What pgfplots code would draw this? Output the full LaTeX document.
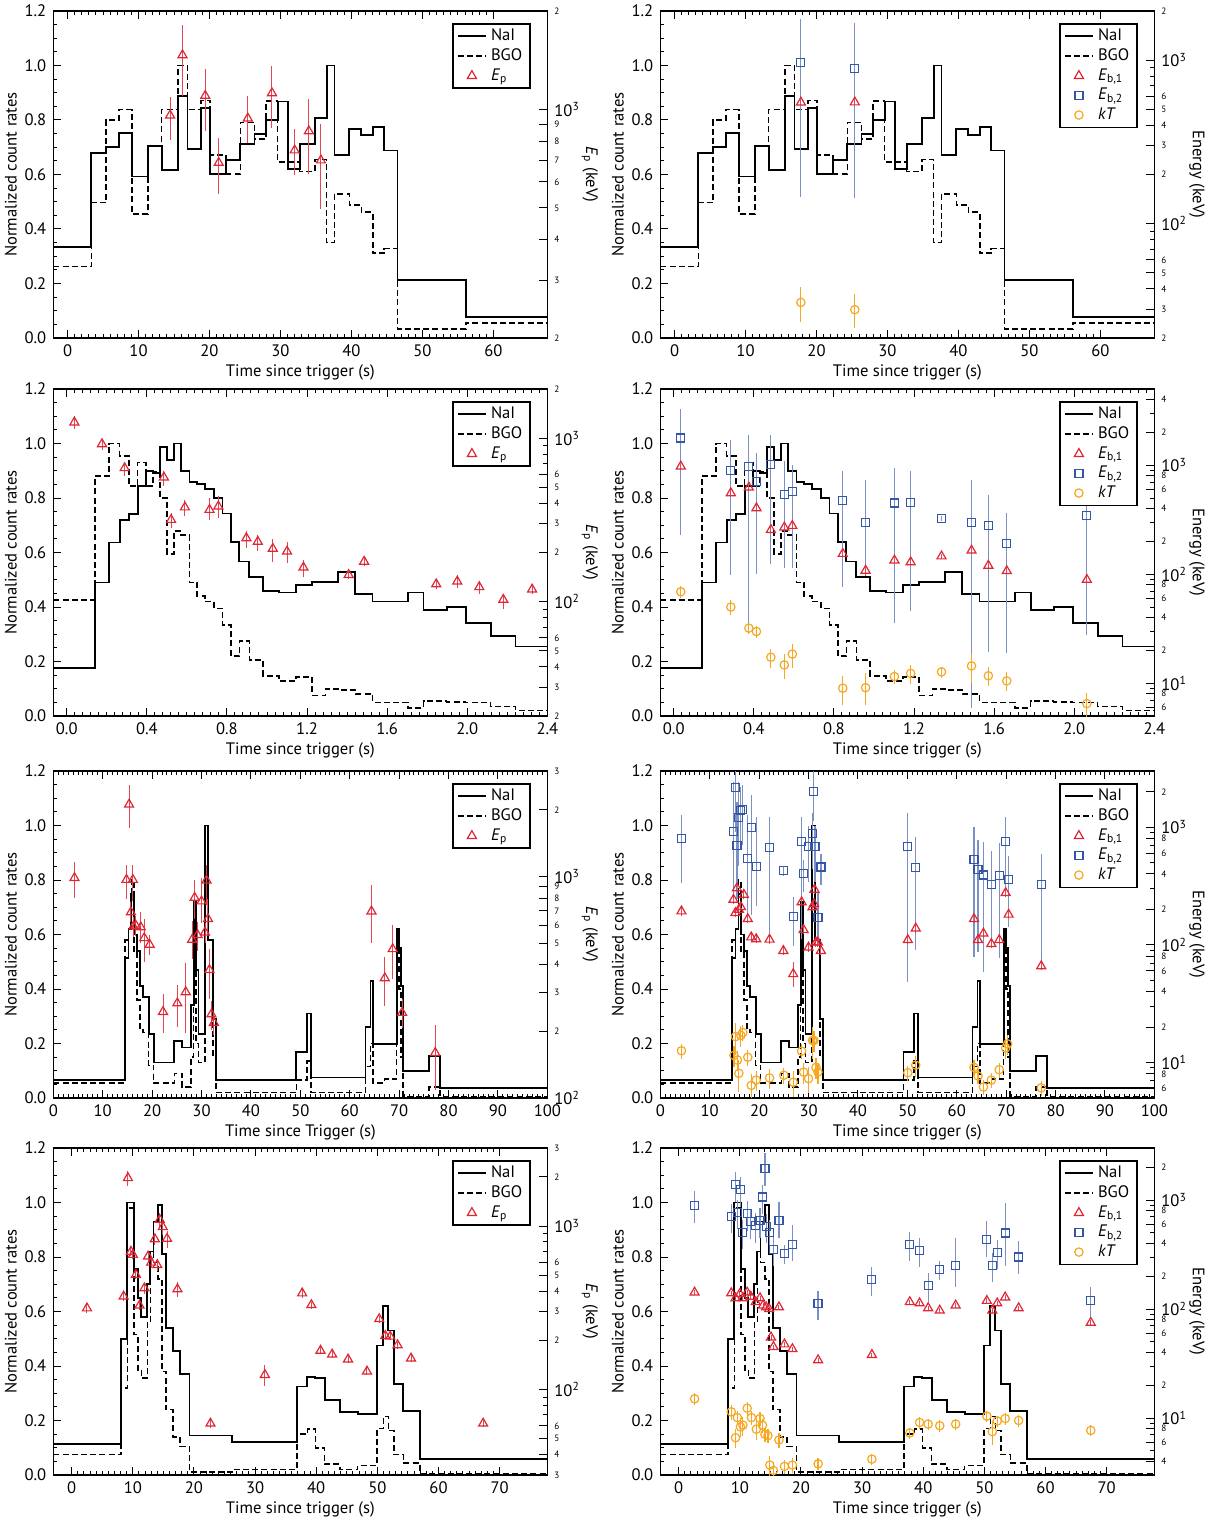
\documentclass[border=0pt]{standalone}
\usepackage{fontspec}
\setmainfont{PT Sans}
\usepackage{pgfplots}
\usepackage{pgfplotstable}
\pgfplotsset{compat=1.18}
\definecolor{cred}{RGB}{222,38,52}
\definecolor{cblue}{RGB}{52,86,166}
\definecolor{corange}{RGB}{246,168,34}
\newcommand{\fs}{\fontsize{8.3}{9.6}\selectfont}
\newcommand{\sm}[1]{{\fontsize{4.6}{5}\selectfont #1}}
\newcommand{\dec}[1]{10\textsuperscript{#1}}

\pgfplotsset{
  mybase/.style={width=247pt,height=163.5pt,scale only axis,tick align=inside,
    tick label style={font=\fs}, label style={font=\fs}},
  mycnt/.style={mybase, ymin=0,ymax=1.2, ytick={0,0.2,0.4,0.6,0.8,1.0,1.2},
    yticklabels={0.0,0.2,0.4,0.6,0.8,1.0,1.2}, minor y tick num=3,
    ytick pos=left, xtick pos=both, minor x tick num=9,
    major tick length=4pt, minor tick length=2pt,
    ylabel={Normalized count rates}, axis line style={line width=0.7pt},
    every tick/.append style={black, line width=0.5pt},
    xlabel style={yshift=3pt}, ylabel style={yshift=-3pt}},
  myen/.style={mybase,
    major tick length=4pt, minor tick length=2pt,
    every tick/.append style={black, line width=0.5pt},
    ylabel style={at={(axis description cs:1.086,0.5)}, anchor=center, rotate=180},
    axis line style={line width=0.7pt},
    legend image code/.code={\draw[mark repeat=2,mark phase=2,##1] plot coordinates {(0cm,0cm) (0.25cm,0cm) (0.5cm,0cm)};},
    legend style={at={(0.967,0.963)}, anchor=north east, draw=black, line width=0.8pt,
      font=\fs, fill=white, inner xsep=2pt, inner ysep=0.5pt, row sep=-1.5pt,
      cells={anchor=west}}},
  mynai/.style={const plot, black, line width=0.9pt},
  mybgo/.style={const plot, black, line width=0.8pt, dash pattern=on 3pt off 1.6pt},
  mypts/.style={only marks, mark options={line width=0.6pt, fill=none, solid},
    error bars/y dir=both, error bars/y explicit, error bars/error mark=none},
  myep/.style={mypts, color=cred, mark=triangle, mark size=2.6pt,
    error bars/error bar style={line width=0.5pt, cred!85}},
  myeb/.style={mypts, color=cblue, mark=square, mark size=2pt,
    error bars/error bar style={line width=0.6pt, cblue!65}},
  mykt/.style={mypts, color=corange, mark=o, mark size=2.1pt,
    error bars/error bar style={line width=0.6pt, corange}},
}
\newcommand{\legone}{%
  \addlegendimage{black, line width=0.9pt}\addlegendentry{NaI}
  \addlegendimage{black, line width=0.8pt, dash pattern=on 3pt off 1.6pt}\addlegendentry{BGO}
  \addlegendimage{only marks, color=cred, mark=triangle, mark size=2.6pt, mark options={line width=0.6pt}}\addlegendentry{\textit{E}\textsubscript{p}}}
\newcommand{\legtwo}{%
  \addlegendimage{black, line width=0.9pt}\addlegendentry{NaI}
  \addlegendimage{black, line width=0.8pt, dash pattern=on 3pt off 1.6pt}\addlegendentry{BGO}
  \addlegendimage{only marks, color=cred, mark=triangle, mark size=2.6pt, mark options={line width=0.6pt}}\addlegendentry{\textit{E}\textsubscript{b,1}}
  \addlegendimage{only marks, color=cblue, mark=square, mark size=2pt, mark options={line width=0.6pt}}\addlegendentry{\textit{E}\textsubscript{b,2}}
  \addlegendimage{only marks, color=corange, mark=o, mark size=2.1pt, mark options={line width=0.6pt}}\addlegendentry{\textit{kT}}}

\begin{document}
% ---------------- light curves ----------------
\pgfplotstableread{
t y
-2 0.333
3.35 0.68
5.4 0.70
7.25 0.752
9.04 0.593
11.3 0.706
13.26 0.616
15.6 0.888
16.9 0.695
18.8 0.845
20.1 0.602
22.3 0.654
24.35 0.713
26.35 0.749
27.98 0.80
29.6 0.868
31.06 0.62
32.7 0.711
34.9 0.808
36.5 1.0
37.6 0.673
39.7 0.767
41.4 0.744
43.0 0.774
44.6 0.688
46.5 0.213
56.1 0.076
67.6 0.076
}\naiA
\pgfplotstableread{
t y
-2 0.262
3.35 0.497
5.4 0.80
7.25 0.838
9.04 0.456
11.3 0.706
13.26 0.838
15.6 1.0
16.9 0.838
18.8 0.872
20.1 0.672
22.3 0.602
24.35 0.791
26.35 0.73
27.98 0.87
29.6 0.645
31.06 0.645
32.7 0.611
34.9 0.655
36.5 0.35
37.6 0.528
39.7 0.488
41.4 0.462
43.0 0.311
44.6 0.328
46.5 0.033
56.1 0.055
67.6 0.055
}\bgoA
\pgfplotstableread{
t y
-0.067 0.175
0.14 0.49
0.211 0.637
0.264 0.718
0.31 0.742
0.354 0.843
0.395 0.90
0.431 0.893
0.466 0.986
0.502 0.94
0.536 1.0
0.571 0.90
0.613 0.86
0.651 0.852
0.69 0.834
0.734 0.80
0.778 0.743
0.82 0.639
0.862 0.567
0.912 0.509
0.981 0.46
1.059 0.453
1.144 0.48
1.226 0.493
1.356 0.527
1.441 0.447
1.527 0.42
1.705 0.453
1.782 0.39
1.897 0.40
1.992 0.34
2.117 0.295
2.241 0.255
2.4 0.255
}\naiB
\pgfplotstableread{
t y
-0.067 0.425
0.14 0.88
0.211 1.0
0.264 0.955
0.31 0.843
0.354 0.93
0.395 0.843
0.431 0.895
0.466 0.80
0.502 0.595
0.536 0.68
0.571 0.665
0.613 0.49
0.651 0.44
0.69 0.42
0.734 0.395
0.778 0.335
0.82 0.22
0.862 0.275
0.912 0.205
0.981 0.147
1.059 0.128
1.144 0.143
1.226 0.075
1.293 0.10
1.356 0.095
1.441 0.08
1.527 0.05
1.705 0.03
1.782 0.055
1.897 0.052
1.992 0.05
2.117 0.035
2.241 0.02
2.4 0.02
}\bgoB
\pgfplotstableread{
t y
0 0.067
14.55 0.515
15.2 0.62
15.8 0.75
16.3 0.60
16.9 0.54
17.5 0.41
18.2 0.37
19.3 0.235
20.3 0.13
24.5 0.21
26.0 0.185
27.9 0.34
28.4 0.72
28.9 0.47
29.4 0.235
30.7 1.0
31.3 0.58
32.3 0.29
32.9 0.065
49.2 0.168
51.3 0.31
52.1 0.075
63.2 0.26
64.2 0.43
64.7 0.197
69.5 0.62
70.0 0.55
70.4 0.41
70.8 0.10
76.1 0.155
78.3 0.037
100 0.037
}\naiC
\pgfplotstableread{
t y
0 0.055
14.55 0.58
15.2 0.62
15.8 0.80
16.3 0.54
16.9 0.36
17.5 0.25
18.2 0.24
19.3 0.12
20.3 0.055
24.5 0.09
26.0 0.04
27.9 0.15
28.4 0.47
28.9 0.20
29.4 0.13
30.7 0.90
31.3 0.58
32.3 0.15
32.9 0.02
49.2 0.065
51.3 0.135
52.1 0.02
63.2 0.115
64.2 0.20
64.7 0.055
67.0 0.07
69.5 0.55
70.0 0.40
70.4 0.15
70.8 0.005
76.1 0.04
78.3 0.005
100 0.005
}\bgoC
\pgfplotstableread{
t y
-3 0.115
8.1 0.50
9.1 1.0
10.17 0.755
10.8 0.65
11.4 0.58
12.37 0.70
12.87 0.82
13.37 0.93
14.12 0.99
14.75 0.81
15.38 0.54
16.57 0.455
17.7 0.37
19.27 0.145
26.2 0.12
36.85 0.325
38.54 0.36
39.86 0.355
41.37 0.275
43.88 0.23
46.77 0.225
49.9 0.475
50.97 0.62
51.79 0.53
52.67 0.335
54.24 0.235
56.94 0.06
77.8 0.06
}\naiD
\pgfplotstableread{
t y
-3 0.075
8.1 0.32
9.1 0.98
10.17 0.515
10.8 0.385
11.4 0.355
12.37 0.56
12.87 0.82
13.37 0.78
14.12 0.72
14.75 0.38
15.38 0.24
16.57 0.14
17.7 0.105
19.27 0.01
26.2 0.02
36.85 0.15
38.54 0.168
39.86 0.10
41.37 0.04
43.88 0.02
46.77 0.035
49.9 0.17
50.97 0.215
51.79 0.163
52.67 0.075
54.24 0.045
56.94 0.005
77.8 0.005
}\bgoD
% ---------------- spectral points: t, E (keV), relative upper / lower error ----------------
\pgfplotstableread{
t E ep em
14.45 959 0.14 0.16
16.2 1466 0.24 0.25
19.4 1101 0.21 0.22
21.3 687 0.19 0.20
25.4 939 0.17 0.16
28.8 1122 0.21 0.22
32.0 750 0.16 0.16
34.0 858 0.25 0.26
35.7 699 0.29 0.29
}\epA
\pgfplotstableread{
t E ep em
17.8 552 0.03 0.03
25.4 553 0.03 0.03
}\ebaA
\pgfplotstableread{
t E ep em
17.8 968 0.85 0.85
25.4 894 0.88 0.84
}\ebbA
\pgfplotstableread{
t E ep em
17.8 33 0.24 0.24
25.4 29.8 0.24 0.23
}\ktA
\pgfplotstableread{
t E ep em
0.038 1250 0.09 0.09
0.176 921 0.06 0.08
0.289 657 0.07 0.11
0.485 576 0.09 0.12
0.521 317 0.10 0.11
0.59 378 0.11 0.12
0.713 365 0.18 0.13
0.757 383 0.16 0.15
0.897 245 0.10 0.13
0.954 233 0.10 0.12
1.029 211 0.14 0.17
1.10 203 0.14 0.15
1.182 162 0.11 0.12
1.408 146 0.08 0.06
1.485 176 0.06 0.06
1.845 128 0.08 0.06
1.95 133 0.09 0.09
2.06 123 0.09 0.09
2.18 103 0.09 0.12
2.324 119 0.06 0.06
}\epB
\pgfplotstableread{
t E ep em
0.035 975 0.06 0.06
0.285 555 0.06 0.06
0.375 625 0.06 0.06
0.413 404 0.06 0.06
0.485 255 0.06 0.06
0.552 269 0.06 0.06
0.592 278 0.06 0.06
0.844 154 0.06 0.06
0.958 108 0.1 0.1
1.102 134 0.06 0.06
1.183 129 0.06 0.06
1.337 146 0.05 0.05
1.487 165 0.06 0.06
1.571 120 0.06 0.06
1.663 107 0.06 0.06
2.063 89 0.06 0.06
}\ebaB
\pgfplotstableread{
t E ep em
0.035 1774 0.84 0.87
0.285 889 0.93 0.89
0.375 975 0.95 0.97
0.413 710 0.82 0.86
0.485 1023 0.86 0.88
0.552 543 1.0 0.79
0.592 574 0.76 0.80
0.844 475 0.85 0.84
0.958 300 1.45 0.68
1.102 449 1.10 0.92
1.183 455 0.93 0.90
1.337 327 0.05 0.05
1.487 298 1.46 0.98
1.571 278 0.93 0.93
1.663 190 0.91 0.90
2.063 344 0.99 0.92
}\ebbB
\pgfplotstableread{
t E ep em
0.035 69 0.12 0.12
0.285 50 0.15 0.15
0.375 32 0.12 0.12
0.413 29.8 0.12 0.12
0.485 17.3 0.2 0.2
0.552 14.7 0.25 0.25
0.592 18.5 0.25 0.25
0.844 9.0 0.3 0.3
0.958 9.1 0.35 0.3
1.102 11.5 0.15 0.15
1.183 12.3 0.2 0.2
1.337 12.7 0.12 0.12
1.487 14.4 0.3 0.3
1.571 11.7 0.2 0.2
1.663 10.5 0.2 0.2
2.063 6.5 0.25 0.25
}\ktB
\pgfplotstableread{
t E ep em
4.28 986 0.18 0.19
15.33 2118 0.23 0.22
14.8 968 0.16 0.18
16.1 968 0.16 0.20
15.7 691 0.11 0.10
16.2 595 0.10 0.10
16.7 601 0.10 0.10
17.7 591 0.17 0.15
18.4 528 0.22 0.22
19.5 493 0.10 0.10
22.2 245 0.20 0.20
25.1 268 0.21 0.22
26.8 301 0.35 0.35
28.1 519 0.22 0.18
28.6 803 0.20 0.20
29.2 545 0.15 0.15
30.0 774 0.27 0.20
30.7 560 0.10 0.10
31.0 962 0.17 0.23
31.3 644 0.23 0.16
31.6 379 0.24 0.26
32.0 239 0.15 0.15
32.5 219 0.12 0.12
64.4 697 0.31 0.28
67.1 348 0.24 0.25
68.7 471 0.28 0.27
70.6 243 0.15 0.15
77.3 160 0.33 0.32
}\epC
\pgfplotstableread{
t E ep em
4.27 193 0.08 0.08
14.8 242 0.08 0.08
15.2 187 0.08 0.08
15.5 303 0.08 0.08
15.9 199 0.08 0.08
16.3 210 0.08 0.08
16.9 267 0.08 0.08
17.7 166 0.08 0.08
18.4 116 0.08 0.08
19.4 112 0.08 0.08
22.1 111 0.08 0.08
24.9 89 0.08 0.08
26.9 56.5 0.26 0.23
28.6 231 0.08 0.08
29.0 134 0.08 0.08
30.0 95 0.08 0.08
30.8 209 0.08 0.08
31.1 223 0.08 0.08
31.2 295 0.08 0.08
31.5 105 0.08 0.08
31.9 105 0.08 0.08
32.5 89 0.08 0.08
50.1 110 0.08 0.08
51.7 138 0.08 0.08
63.5 166 0.08 0.08
64.3 110 0.08 0.08
65.4 125 0.08 0.08
67.0 102 0.08 0.08
68.6 110 0.08 0.08
69.9 276 0.08 0.08
70.5 181 0.08 0.08
77.1 66 0.08 0.08
}\ebaC
\pgfplotstableread{
t E ep em
4.27 800 0.58 0.58
14.8 912 1.67 0.71
15.2 2163 0.39 0.58
15.5 703 1.33 0.65
15.9 1207 1.0 0.61
16.2 1377 0.6 0.5
16.7 1422 0.6 0.5
17.7 540 1.34 0.69
18.4 993 0.89 0.82
19.5 465 1.63 0.54
22.1 667 0.84 0.81
25.0 429 0.1 0.1
26.9 175 0.45 0.44
28.6 750 0.63 0.85
29.0 402 0.3 0.3
30.0 688 0.5 0.5
30.8 879 0.5 0.5
31.0 2000 0.5 0.44
31.3 688 0.5 0.5
31.9 171 0.64 0.40
32.5 459 0.3 0.3
50.1 688 0.9 0.93
51.7 452 0.83 0.80
63.5 530 0.9 0.85
64.3 435 0.8 0.8
65.4 393 0.9 0.85
67.0 327 0.9 0.7
68.6 389 0.9 0.8
69.9 758 0.6 0.6
70.5 357 0.6 0.6
77.1 327 0.82 0.80
}\ebbC
\pgfplotstableread{
t E ep em
4.27 12.6 0.15 0.15
14.9 11.5 0.2 0.2
15.2 16.6 0.3 0.3
15.6 10.5 0.2 0.2
15.9 8.1 0.3 0.3
16.3 17 0.2 0.2
16.7 18 0.15 0.15
17.7 11.1 0.15 0.15
18.4 6.4 0.25 0.25
19.4 7.1 0.2 0.2
22.1 7.4 0.2 0.2
25.0 7.8 0.15 0.15
26.9 6.8 0.25 0.25
28.6 12.5 0.15 0.15
29.0 8.3 0.2 0.2
30.0 7.3 0.25 0.25
30.8 15.4 0.3 0.3
31.1 15.4 0.2 0.2
31.5 9.1 0.2 0.2
31.9 8.3 0.2 0.2
50.1 8.2 0.15 0.15
51.7 9.5 0.2 0.2
63.5 9.1 0.15 0.15
64.3 7.7 0.15 0.15
65.4 6.2 0.15 0.15
67.0 7.1 0.15 0.15
68.6 8.7 0.15 0.15
69.9 13.3 0.2 0.2
70.3 14.4 0.2 0.2
77.1 6.1 0.15 0.15
}\ktC
\pgfplotstableread{
t E ep em
2.5 314 0.06 0.06
9.2 1967 0.10 0.11
8.5 371 0.06 0.06
9.7 698 0.06 0.06
10.0 667 0.06 0.06
10.5 504 0.06 0.06
11.1 327 0.06 0.06
11.9 417 0.08 0.08
12.5 652 0.08 0.08
13.0 598 0.08 0.08
13.6 832 0.08 0.08
14.0 578 0.08 0.08
14.4 1094 0.10 0.10
14.9 986 0.10 0.10
15.6 836 0.12 0.12
17.3 411 0.10 0.10
22.7 62 0.06 0.06
31.6 123 0.15 0.15
37.7 388 0.06 0.06
39.2 329 0.05 0.05
40.7 173 0.05 0.05
42.6 164 0.05 0.05
45.2 153 0.05 0.05
48.3 129 0.05 0.05
50.3 270 0.05 0.05
51.3 213 0.05 0.05
52.1 211 0.05 0.05
53.3 187 0.05 0.05
55.5 155 0.05 0.05
67.3 62 0.05 0.05
}\epD
\pgfplotstableread{
t E ep em
2.6 142 0.05 0.05
8.6 140 0.05 0.05
9.3 126 0.05 0.05
10.0 138 0.05 0.05
10.5 126 0.05 0.05
11.2 142 0.05 0.05
11.8 130 0.05 0.05
12.6 116 0.05 0.05
13.3 126 0.05 0.05
13.8 108 0.05 0.05
14.3 104 0.05 0.05
14.8 100 0.05 0.05
15.1 55 0.05 0.05
15.5 45 0.05 0.05
16.4 104 0.05 0.05
17.3 47.5 0.05 0.05
18.6 43 0.05 0.05
22.8 34 0.05 0.05
31.6 38 0.05 0.05
37.8 116 0.05 0.05
39.4 113 0.05 0.05
40.8 102 0.05 0.05
42.7 97 0.05 0.05
45.3 108 0.05 0.05
50.4 119 0.05 0.05
51.3 97 0.05 0.05
52.1 113 0.05 0.05
53.4 128 0.05 0.05
55.6 102 0.05 0.05
67.4 75 0.05 0.05
}\ebaD
\pgfplotstableread{
t E ep em
2.6 885 0.36 0.31
8.6 707 0.3 0.3
9.3 1381 0.3 0.3
9.6 771 0.3 0.3
10.1 1242 0.3 0.3
10.5 504 0.3 0.3
11.2 749 0.3 0.3
11.8 630 0.3 0.3
12.6 581 0.3 0.3
13.3 645 0.3 0.3
13.7 1064 0.3 0.3
14.1 1937 0.4 0.3
14.4 572 0.3 0.3
14.9 507 0.3 0.3
15.5 354 0.3 0.3
16.4 645 0.5 0.3
17.3 322 0.2 0.2
18.6 394 0.5 0.3
22.8 113 0.3 0.3
31.6 188 0.3 0.3
37.8 394 0.3 0.3
39.4 344 0.3 0.3
40.8 164 0.3 0.3
42.7 229 0.2 0.2
45.3 251 0.78 0.36
50.4 432 0.5 0.3
51.3 251 0.3 0.3
52.1 330 0.3 0.3
53.4 498 0.9 0.5
55.6 300 0.4 0.3
67.4 119 0.35 0.3
}\ebbD
\pgfplotstableread{
t E ep em
2.6 15 0.12 0.12
8.6 11.4 0.15 0.15
9.3 6.6 0.2 0.2
9.6 10.1 0.15 0.15
10.1 8.3 0.2 0.2
10.5 8.6 0.2 0.2
11.2 12.3 0.15 0.15
11.9 10.1 0.15 0.15
12.7 7.9 0.2 0.2
13.3 9.9 0.15 0.15
13.7 8.6 0.15 0.15
14.1 7.1 0.15 0.15
14.6 6.9 0.15 0.15
14.9 3.7 0.2 0.2
15.5 3.3 0.2 0.2
16.4 6.3 0.15 0.15
17.3 3.6 0.15 0.15
18.6 3.7 0.15 0.15
22.8 3.8 0.12 0.12
31.6 4.2 0.12 0.12
37.8 7.3 0.12 0.12
39.4 9.1 0.12 0.12
40.8 8.8 0.12 0.12
42.7 8.5 0.12 0.12
45.3 8.8 0.12 0.12
50.4 10.4 0.12 0.12
51.3 7.5 0.25 0.25
52.1 9.4 0.12 0.12
53.4 9.9 0.12 0.12
55.6 9.5 0.12 0.12
67.4 7.7 0.12 0.12
}\ktD

\newcommand{\pts}[2]{\addplot[#1, forget plot] table[x=t, y=E,
  y error plus expr=\thisrow{E}*\thisrow{ep}, y error minus expr=\thisrow{E}*\thisrow{em}]{#2};}

\begin{tikzpicture}
\useasboundingbox (0,0) rectangle (600pt,-762pt);
% ===== Panel 1 =====
\begin{axis}[mycnt, at={(24pt,-5.5pt)}, anchor=north west, xmin=-2, xmax=67.6,
  xtick={0,10,20,30,40,50,60}, xticklabels={0,10,20,30,40,50,60}, xlabel={Time since trigger (s)}]
\addplot[mybgo] table[x=t,y=y]{\bgoA};
\addplot[mynai] table[x=t,y=y]{\naiA};
\end{axis}
\begin{axis}[ymode=log, axis x line=none, axis y line*=right, myen,
  at={(24pt,-5.5pt)}, anchor=north west, xmin=-2, xmax=67.6,
  ymin=200, ymax=2000, ytick={1000}, yticklabels={\dec3},
  minor ytick={300,400,500,600,700,800,900},
  extra y ticks={200,300,400,500,600,700,800,900,2000},
  extra y tick labels={\sm2,\sm3,\sm4,\sm5,\sm6,\sm7,\sm8,\sm9,\sm2},
  ylabel={\textit{E}\textsubscript{p} (keV)}]
\legone
\pts{myep}{\epA}
\end{axis}
% ===== Panel 2 =====
\begin{axis}[mycnt, at={(327.5pt,-5.5pt)}, anchor=north west, xmin=-2, xmax=67.6,
  xtick={0,10,20,30,40,50,60}, xticklabels={0,10,20,30,40,50,60}, xlabel={Time since trigger (s)}]
\addplot[mybgo] table[x=t,y=y]{\bgoA};
\addplot[mynai] table[x=t,y=y]{\naiA};
\end{axis}
\begin{axis}[ymode=log, axis x line=none, axis y line*=right, myen,
  at={(327.5pt,-5.5pt)}, anchor=north west, xmin=-2, xmax=67.6,
  ymin=20, ymax=2000, ytick={100,1000}, yticklabels={\dec2,\dec3},
  minor ytick={30,40,50,60,70,80,90,200,300,400,500,600,700,800,900},
  extra y ticks={20,30,40,50,60,200,300,400,500,600,2000},
  extra y tick labels={\sm2,\sm3,\sm4,\sm5,\sm6,\sm2,\sm3,\sm4,\sm5,\sm6,\sm2},
  ylabel={Energy (keV)}]
\legtwo
\pts{myeb}{\ebbA}
\pts{myep}{\ebaA}
\pts{mykt}{\ktA}
\end{axis}
% ===== Panel 3 =====
\begin{axis}[mycnt, at={(24pt,-194.5pt)}, anchor=north west, xmin=-0.067, xmax=2.4,
  xtick={0,0.4,0.8,1.2,1.6,2.0,2.4}, xticklabels={0.0,0.4,0.8,1.2,1.6,2.0,2.4}, xlabel={Time since trigger (s)}]
\addplot[mybgo] table[x=t,y=y]{\bgoB};
\addplot[mynai] table[x=t,y=y]{\naiB};
\end{axis}
\begin{axis}[ymode=log, axis x line=none, axis y line*=right, myen,
  at={(24pt,-194.5pt)}, anchor=north west, xmin=-0.067, xmax=2.4,
  ymin=20, ymax=2000, ytick={100,1000}, yticklabels={\dec2,\dec3},
  minor ytick={30,40,50,60,70,80,90,200,300,400,500,600,700,800,900},
  extra y ticks={20,30,40,50,60,200,300,400,500,600,2000},
  extra y tick labels={\sm2,\sm3,\sm4,\sm5,\sm6,\sm2,\sm3,\sm4,\sm5,\sm6,\sm2},
  ylabel={\textit{E}\textsubscript{p} (keV)}]
\legone
\pts{myep}{\epB}
\end{axis}
% ===== Panel 4 =====
\begin{axis}[mycnt, at={(327.5pt,-194.5pt)}, anchor=north west, xmin=-0.067, xmax=2.4,
  xtick={0,0.4,0.8,1.2,1.6,2.0,2.4}, xticklabels={0.0,0.4,0.8,1.2,1.6,2.0,2.4}, xlabel={Time since trigger (s)}]
\addplot[mybgo] table[x=t,y=y]{\bgoB};
\addplot[mynai] table[x=t,y=y]{\naiB};
\end{axis}
\begin{axis}[ymode=log, axis x line=none, axis y line*=right, myen,
  at={(327.5pt,-194.5pt)}, anchor=north west, xmin=-0.067, xmax=2.4,
  ymin=5, ymax=5000, ytick={10,100,1000}, yticklabels={\dec1,\dec2,\dec3},
  minor ytick={6,7,8,9,20,30,40,50,60,70,80,90,200,300,400,500,600,700,800,900,2000,3000,4000},
  extra y ticks={6,8,20,40,60,80,200,400,600,800,2000,4000},
  extra y tick labels={\sm6,\sm8,\sm2,\sm4,\sm6,\sm8,\sm2,\sm4,\sm6,\sm8,\sm2,\sm4},
  ylabel={Energy (keV)}]
\legtwo
\pts{myeb}{\ebbB}
\pts{myep}{\ebaB}
\pts{mykt}{\ktB}
\end{axis}
% ===== Panel 5 =====
\begin{axis}[mycnt, at={(24pt,-385.5pt)}, anchor=north west, xmin=0, xmax=100,
  xtick={0,10,20,30,40,50,60,70,80,90,100}, xticklabels={0,10,20,30,40,50,60,70,80,90,100}, xlabel={Time since Trigger (s)}]
\addplot[mybgo] table[x=t,y=y]{\bgoC};
\addplot[mynai] table[x=t,y=y]{\naiC};
\end{axis}
\begin{axis}[ymode=log, axis x line=none, axis y line*=right, myen,
  at={(24pt,-385.5pt)}, anchor=north west, xmin=0, xmax=100,
  ymin=100, ymax=3000, ytick={100,1000}, yticklabels={\dec2,\dec3},
  minor ytick={200,300,400,500,600,700,800,900,2000},
  extra y ticks={200,300,400,500,600,700,800,900,2000,3000},
  extra y tick labels={\sm2,\sm3,\sm4,\sm5,\sm6,\sm7,\sm8,\sm9,\sm2,\sm3},
  ylabel={\textit{E}\textsubscript{p} (keV)}]
\legone
\pts{myep}{\epC}
\end{axis}
% ===== Panel 6 =====
\begin{axis}[mycnt, at={(327.5pt,-385.5pt)}, anchor=north west, xmin=0, xmax=100,
  xtick={0,10,20,30,40,50,60,70,80,90,100}, xticklabels={0,10,20,30,40,50,60,70,80,90,100}, xlabel={Time since trigger (s)}]
\addplot[mybgo] table[x=t,y=y]{\bgoC};
\addplot[mynai] table[x=t,y=y]{\naiC};
\end{axis}
\begin{axis}[ymode=log, axis x line=none, axis y line*=right, myen,
  at={(327.5pt,-385.5pt)}, anchor=north west, xmin=0, xmax=100,
  ymin=5, ymax=3000, ytick={10,100,1000}, yticklabels={\dec1,\dec2,\dec3},
  minor ytick={6,7,8,9,20,30,40,50,60,70,80,90,200,300,400,500,600,700,800,900,2000},
  extra y ticks={6,8,20,40,60,80,200,400,600,800,2000},
  extra y tick labels={\sm6,\sm8,\sm2,\sm4,\sm6,\sm8,\sm2,\sm4,\sm6,\sm8,\sm2},
  ylabel={Energy (keV)}]
\legtwo
\pts{myeb}{\ebbC}
\pts{myep}{\ebaC}
\pts{mykt}{\ktC}
\end{axis}
% ===== Panel 7 =====
\begin{axis}[mycnt, at={(24pt,-574pt)}, anchor=north west, xmin=-3, xmax=77.8,
  xtick={0,10,20,30,40,50,60,70}, xticklabels={0,10,20,30,40,50,60,70}, xlabel={Time since trigger (s)}]
\addplot[mybgo] table[x=t,y=y]{\bgoD};
\addplot[mynai] table[x=t,y=y]{\naiD};
\end{axis}
\begin{axis}[ymode=log, axis x line=none, axis y line*=right, myen,
  at={(24pt,-574pt)}, anchor=north west, xmin=-3, xmax=77.8,
  ymin=30, ymax=3000, ytick={100,1000}, yticklabels={\dec2,\dec3},
  minor ytick={40,50,60,70,80,90,200,300,400,500,600,700,800,900,2000},
  extra y ticks={30,40,50,60,200,300,400,500,600,2000,3000},
  extra y tick labels={\sm3,\sm4,\sm5,\sm6,\sm2,\sm3,\sm4,\sm5,\sm6,\sm2,\sm3},
  ylabel={\textit{E}\textsubscript{p} (keV)}]
\legone
\pts{myep}{\epD}
\end{axis}
% ===== Panel 8 =====
\begin{axis}[mycnt, at={(327.5pt,-574pt)}, anchor=north west, xmin=-3, xmax=77.8,
  xtick={0,10,20,30,40,50,60,70}, xticklabels={0,10,20,30,40,50,60,70}, xlabel={Time since trigger (s)}]
\addplot[mybgo] table[x=t,y=y]{\bgoD};
\addplot[mynai] table[x=t,y=y]{\naiD};
\end{axis}
\begin{axis}[ymode=log, axis x line=none, axis y line*=right, myen,
  at={(327.5pt,-574pt)}, anchor=north west, xmin=-3, xmax=77.8,
  ymin=3, ymax=3000, ytick={10,100,1000}, yticklabels={\dec1,\dec2,\dec3},
  minor ytick={4,5,6,7,8,9,20,30,40,50,60,70,80,90,200,300,400,500,600,700,800,900,2000},
  extra y ticks={4,6,8,20,40,60,80,200,400,600,800,2000},
  extra y tick labels={\sm4,\sm6,\sm8,\sm2,\sm4,\sm6,\sm8,\sm2,\sm4,\sm6,\sm8,\sm2},
  ylabel={Energy (keV)}]
\legtwo
\pts{myeb}{\ebbD}
\pts{myep}{\ebaD}
\pts{mykt}{\ktD}
\end{axis}
\end{tikzpicture}
\end{document}
